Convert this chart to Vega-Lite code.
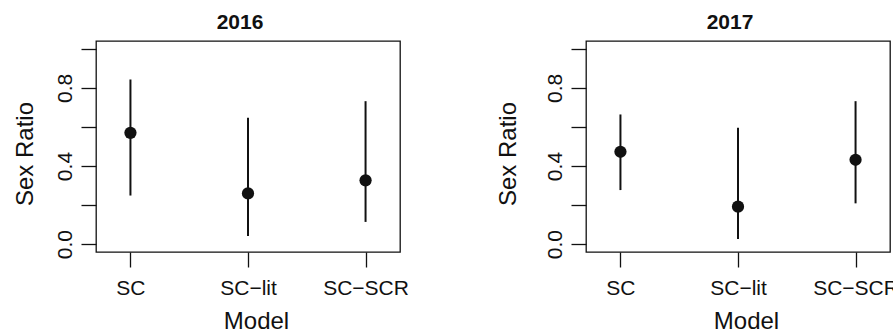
{
  "$schema": "https://vega.github.io/schema/vega-lite/v6.json",
  "padding": {"left": 12, "top": 11, "right": 0, "bottom": 0},
  "background": "white",
  "data": {"values": [
    {"year": 2016, "model": "SC", "est": 0.570, "lo": 0.249, "hi": 0.843},
    {"year": 2016, "model": "SC−lit", "est": 0.260, "lo": 0.042, "hi": 0.647},
    {"year": 2016, "model": "SC−SCR", "est": 0.327, "lo": 0.114, "hi": 0.732},
    {"year": 2017, "model": "SC", "est": 0.473, "lo": 0.277, "hi": 0.664},
    {"year": 2017, "model": "SC−lit", "est": 0.192, "lo": 0.026, "hi": 0.596},
    {"year": 2017, "model": "SC−SCR", "est": 0.432, "lo": 0.209, "hi": 0.732}
  ]},
  "config": {
    "font": "Liberation Sans",
    "view": {"stroke": "#111", "strokeWidth": 1.3},
    "axis": {"grid": false, "domain": false, "tickColor": "#111", "tickWidth": 1.3, "tickSize": 15,
      "labelColor": "#111", "titleColor": "#111", "labelFontSize": 21, "titleFontSize": 24,
      "titleFontWeight": "normal", "labelFont": "Liberation Sans", "titleFont": "Liberation Sans"},
    "title": {"fontSize": 21, "fontWeight": "bold", "font": "Liberation Sans", "color": "#111"}
  },
  "spacing": 186,
  "bounds": "flush",
  "hconcat": [
    {
      "width": 304, "height": 211,
      "title": {"text": "2016", "dx": -8, "offset": 8},
      "transform": [{"filter": "datum.year == 2016"}],
      "encoding": {
        "x": {"field": "model", "type": "nominal", "sort": ["SC", "SC−lit", "SC−SCR"],
          "scale": {"type": "point", "padding": 0.293},
          "axis": {"title": "Model", "labelAngle": 0, "labelPadding": 10.5, "titleX": 160, "titleY": 76,
            "titleBaseline": "alphabetic", "titleAlign": "center"}}
      },
      "layer": [
        {"mark": {"type": "rule", "strokeWidth": 2, "color": "#111"},
         "encoding": {
           "y": {"field": "lo", "type": "quantitative", "title": "Sex Ratio",
             "scale": {"domain": [-0.04, 1.04], "nice": false, "zero": false},
             "axis": {"values": [0, 0.2, 0.4, 0.6, 0.8, 1],
               "labelExpr": "(datum.value == 0 || datum.value == 0.4 || datum.value == 0.8) ? format(datum.value, '.1f') : ''",
               "labelAngle": -90, "labelAlign": "center", "labelBaseline": "alphabetic", "labelPadding": 10,
               "titleX": -64, "titleY": 112.5, "titleAngle": -90, "titleAlign": "center", "titleBaseline": "alphabetic"}},
           "y2": {"field": "hi"}}},
        {"mark": {"type": "point", "filled": true, "size": 150, "color": "#111", "opacity": 1},
         "encoding": {"y": {"field": "est", "type": "quantitative", "title": "Sex Ratio"}}}
      ]
    },
    {
      "width": 304, "height": 211,
      "title": {"text": "2017", "dx": -8, "offset": 8},
      "transform": [{"filter": "datum.year == 2017"}],
      "encoding": {
        "x": {"field": "model", "type": "nominal", "sort": ["SC", "SC−lit", "SC−SCR"],
          "scale": {"type": "point", "padding": 0.293},
          "axis": {"title": "Model", "labelAngle": 0, "labelPadding": 10.5, "titleX": 160, "titleY": 76,
            "titleBaseline": "alphabetic", "titleAlign": "center"}}
      },
      "layer": [
        {"mark": {"type": "rule", "strokeWidth": 2, "color": "#111"},
         "encoding": {
           "y": {"field": "lo", "type": "quantitative", "title": "Sex Ratio",
             "scale": {"domain": [-0.04, 1.04], "nice": false, "zero": false},
             "axis": {"values": [0, 0.2, 0.4, 0.6, 0.8, 1],
               "labelExpr": "(datum.value == 0 || datum.value == 0.4 || datum.value == 0.8) ? format(datum.value, '.1f') : ''",
               "labelAngle": -90, "labelAlign": "center", "labelBaseline": "alphabetic", "labelPadding": 10,
               "titleX": -71, "titleY": 112.5, "titleAngle": -90, "titleAlign": "center", "titleBaseline": "alphabetic"}},
           "y2": {"field": "hi"}}},
        {"mark": {"type": "point", "filled": true, "size": 150, "color": "#111", "opacity": 1},
         "encoding": {"y": {"field": "est", "type": "quantitative", "title": "Sex Ratio"}}}
      ]
    }
  ]
}
